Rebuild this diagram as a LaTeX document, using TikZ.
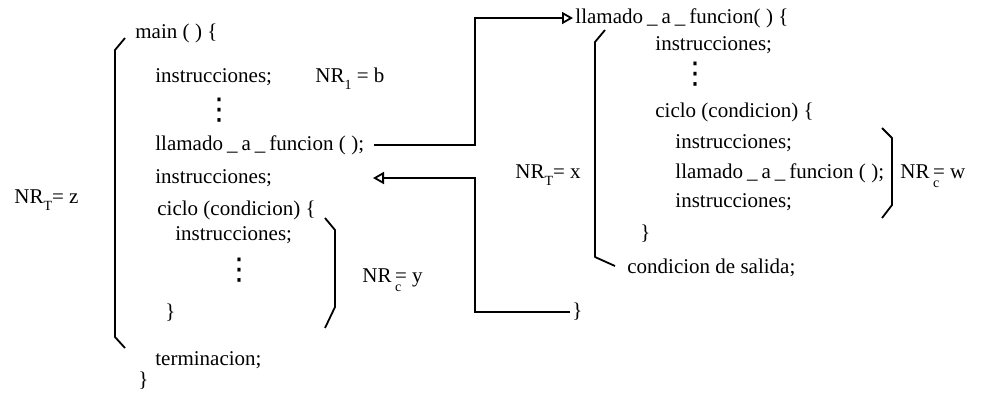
\documentclass[tikz,border=0pt]{standalone}
\usepackage{fontspec}
\setmainfont{Liberation Serif}
\newfontfamily\symfont{DejaVu Sans}
\usetikzlibrary{arrows.meta,positioning,calc}
\tikzset{
  code/.style={anchor=west,inner sep=1pt,font=\fontsize{10.5}{12}\selectfont,text height=1.7ex,text depth=.4ex},
  vdts/.style={inner sep=0pt,font=\symfont\fontsize{15}{15}\selectfont},
  brk/.style={line width=0.9pt,line join=round},
  callarr/.style={-{Triangle[open,length=5.5pt,width=6pt]},line width=0.9pt},
}
\newcommand{\nrsub}[1]{NR\raisebox{-0.7ex}{\scriptsize #1}}
\newcommand{\nrcyc}{NR\,\rlap{\raisebox{-0.9ex}{\scriptsize c}}}
\newcommand{\usc}{\kern2pt\_\kern2pt}
\newcommand{\pars}{(\kern1pt\,)}

\begin{document}
\begin{tikzpicture}[x=0.5pt,y=-0.5pt]
  \useasboundingbox (0,0) rectangle (988,393);
  % Main program
  \node[code] (mainhd) at (133,33) {main \pars\ \{};
  \node[code] (minstr1) at (153,77) {instrucciones;};
  \node[code] (nrb) at (313,77) {\nrsub{1} = b};
  \node[vdts] (mdots1) at (219,110) {⋮};
  \node[code] (mcall) at (153,145) {llamado\usc a\usc funcion \pars;};
  \node[code] (minstr2) at (153,178) {instrucciones;};
  \node[code] (mloop) at (155,210) {ciclo (condicion) \{};
  \node[code] (minstr3) at (173,235) {instrucciones;};
  \node[vdts] (mdots2) at (239,270) {⋮};
  \node[code] (mclose) at (163,313) {\}};
  \node[code] (mterm) at (153,360) {terminacion;};
  \node[code] (mend) at (136,381) {\}};
  \node[code] (nrz) at (12,198) {\nrsub{T}= z};
  \node[code] (nry) at (360,277) {\nrcyc= y};

  % Main brackets
  \draw[brk] (125,38) -- (115,50) -- (115,337) -- (125,348);
  \draw[brk] (325,218) -- (335,230) -- (335,307) -- (325,328);

  % Called function
  \node[code] (fhd) at (573,18) {llamado\usc a\usc funcion\pars\ \{};
  \node[code] (finstr1) at (653,45) {instrucciones;};
  \node[vdts] (fdots) at (695,74) {⋮};
  \node[code] (floop) at (653,112) {ciclo (condicion) \{};
  \node[code] (finstr2) at (673,143) {instrucciones;};
  \node[code] (fcall) at (673,173) {llamado\usc a\usc funcion \pars;};
  \node[code] (finstr3) at (673,202) {instrucciones;};
  \node[code] (fclose) at (638,234) {\}};
  \node[code] (fexit) at (625,268) {condicion de salida;};
  \node[code] (fend) at (570,312) {\}};
  \node[code] (nrx) at (513,173) {\nrsub{T}= x};
  \node[code] (nrw) at (898,173) {\nrcyc= w};

  % Function brackets
  \draw[brk] (605,30) -- (595,42) -- (595,257) -- (615,266);
  \draw[brk] (882,128) -- (892,138) -- (892,205) -- (882,218);

  % Call and return
  \coordinate (bus) at (475,0);
  \coordinate (rettip) at (373,178);
  \draw[callarr, shorten <=4pt] (mcall.east) -- (mcall.east -| bus) |- (fhd.west);
  \draw[callarr] (fend.west) -- (fend.west -| bus) |- (rettip);
\end{tikzpicture}
\end{document}
